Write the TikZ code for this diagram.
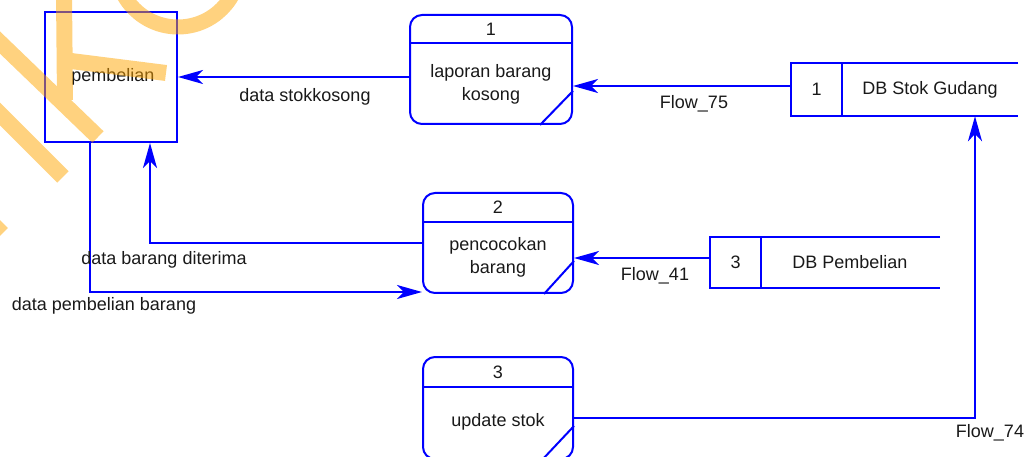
\documentclass[tikz,border=0pt]{standalone}
\usepackage{fontspec}
\setmainfont{Liberation Sans}
\usetikzlibrary{arrows.meta}
\definecolor{dfdblue}{HTML}{0000FF}
\definecolor{wmorange}{HTML}{FFA500}
\begin{document}
\begin{tikzpicture}[x=1pt,y=-1pt,
  lbl/.style={font=\fontsize{18}{23}\selectfont, inner sep=0pt, text=black!90},
  line/.style={draw=dfdblue, line width=2pt},
  proc/.style={line, rounded corners=12pt, inner sep=0pt},
  box/.style={inner sep=0pt},
  flow/.style={draw=dfdblue, line width=2pt, -{Stealth[length=25pt,width=14pt,inset=7pt]}},
  wm/.style={draw=wmorange, line width=16pt}]
\useasboundingbox (0,0) rectangle (1034,457);
\clip (0,0) rectangle (1034,457);

% external entity
\node[line, box, minimum width=132pt, minimum height=130pt] (pb) at (111,77) {};
\node[lbl] (pbt) at (113,77) {pembelian};

% process 1
\node[proc, minimum width=162pt, minimum height=109pt] (p1) at (491,69.5) {};
\draw[line] (p1.west |- 0,43) -- (p1.east |- 0,43);
\draw[line] ([yshift=34pt]p1.south east) -- ([xshift=-33pt]p1.south east);
\node[lbl] (p1n) at (491,29) {1};
\node[lbl, align=center] (p1t) at (491,84) {laporan barang\\kosong};

% process 2
\node[proc, minimum width=150pt, minimum height=100pt] (p2) at (498,243) {};
\draw[line] (p2.west |- 0,222) -- (p2.east |- 0,222);
\draw[line] ([yshift=33pt]p2.south east) -- ([xshift=-30pt]p2.south east);
\node[lbl] (p2n) at (498,207) {2};
\node[lbl, align=center] (p2t) at (498,257) {pencocokan\\barang};

% process 3
\node[proc, minimum width=150pt, minimum height=102pt] (p3) at (498,408) {};
\draw[line] (p3.west |- 0,387) -- (p3.east |- 0,387);
\draw[line] ([yshift=34pt]p3.south east) -- ([xshift=-32pt]p3.south east);
\node[lbl] (p3n) at (498,372) {3};
\node[lbl] (p3t) at (498,422) {update stok};

% data store 1
\node[box, minimum width=227pt, minimum height=53pt] (s1) at (904.5,89.5) {};
\draw[line] (s1.north east) -- (s1.north west) -- (s1.south west) -- (s1.south east);
\draw[line] ([xshift=51pt]s1.north west) -- ([xshift=51pt]s1.south west);
\node[lbl] (s1n) at (816.5,89.5) {1};
\node[lbl] (s1t) at (930,89.5) {DB Stok Gudang};

% data store 3
\node[box, minimum width=230pt, minimum height=51pt] (s2) at (825,262.5) {};
\draw[line] (s2.north east) -- (s2.north west) -- (s2.south west) -- (s2.south east);
\draw[line] ([xshift=51pt]s2.north west) -- ([xshift=51pt]s2.south west);
\node[lbl] (s2n) at (735.5,262.5) {3};
\node[lbl] (s2t) at (850,262.5) {DB Pembelian};

% flows
\draw[flow] (p1.west |- pb.east) -- (pb.east);
\draw[flow] ([yshift=3.5pt]s1.west) -- ([yshift=3.5pt]s1.west -| p1.east);
\draw[flow] ([yshift=4.5pt]s2.west) -- ([yshift=4.5pt]s2.west -| p2.east);
\draw[flow] (p2.west) -| ([xshift=39pt]pb.south);
\draw[flow] ([xshift=-21pt]pb.south) |- ([yshift=2pt]p2.south west);
\draw[flow] ([yshift=-10pt]p3.east) -| ([xshift=70.5pt]s1.south);

% flow labels
\node[lbl] (l1) at (305,97) {data stokkosong};
\node[lbl] (l2) at (694,104) {Flow\_75};
\node[lbl] (l3) at (655,276) {Flow\_41};
\node[lbl] (l4) at (164,260) {data barang diterima};
\node[lbl] (l5) at (104,306) {data pembelian barang};
\node[lbl] (l6) at (990,433) {Flow\_74};

% watermark
\begin{scope}[transparency group, opacity=0.5]
\draw[wm] (-12,31) -- (98,137);
\draw[wm] (-20,94) -- (63,177);
\draw[wm] (64,-5) -- (65,100);
\draw[wm] (71,61) -- (166,73);
\draw[wm, line width=15pt] (178,-35) circle[radius=62];
\draw[wm] (-40,191.4) -- (2.3,233.7);
\end{scope}
\end{tikzpicture}
\end{document}
